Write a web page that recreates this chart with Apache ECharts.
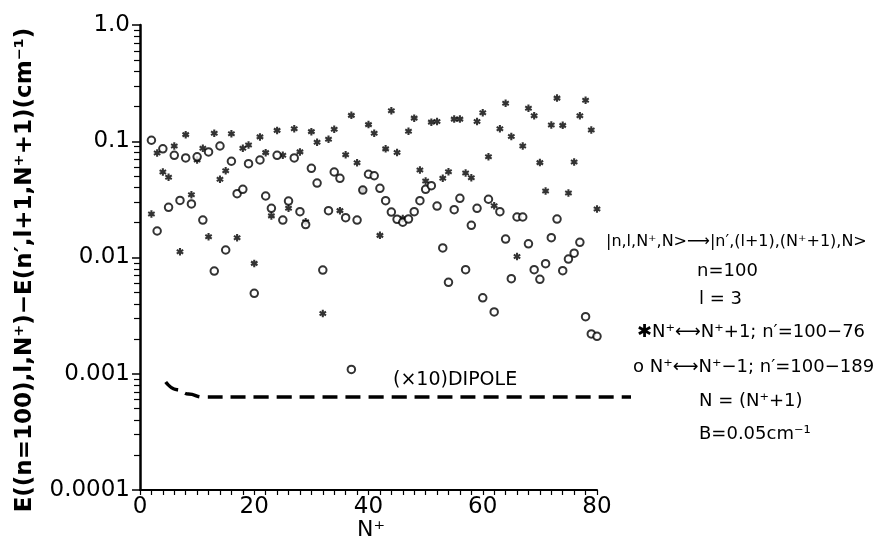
<!DOCTYPE html>
<html>
<head>
<meta charset="utf-8">
<script src="https://cdn.jsdelivr.net/npm/echarts@6/dist/echarts.min.js"></script>
<style>
  html, body { margin: 0; padding: 0; background: #fff; }
  #chart { width: 878px; height: 546px; }
</style>
</head>
<body>
<div id="chart"></div>
<script>
// N+ values, one asterisk and one circle per value
const starN = [2,3,4,5,6,7,8,9,10,11,12,13,14,15,16,17,18,19,20,21,22,23,24,25,26,27,28,29,30,31,
  32,33,34,35,36,37,38,39,40,41,42,43,44,45,46,47,48,49,50,51,52,53,54,55,56,57,58,59,60,61,
  62,63,64,65,66,67,68,69,70,71,72,73,74,75,76,77,78,79,80];
const starVal = [0.0237,0.0793,0.0544,0.049,0.091,0.0112,0.114,0.0347,0.069,0.087,
  0.0151,0.117,0.0471,0.0558,0.116,0.0148,0.087,0.0929,0.0089,0.109,
  0.0798,0.0228,0.124,0.0757,0.0265,0.128,0.081,0.0203,0.121,0.098,
  0.0033,0.104,0.127,0.0253,0.0766,0.167,0.0654,0.0381,0.139,0.117,
  0.0155,0.086,0.183,0.080,0.0217,0.122,0.158,0.0566,0.0455,0.146,
  0.148,0.048,0.0547,0.155,0.155,0.0533,0.0486,0.148,0.176,0.0735,
  0.0279,0.128,0.212,0.110,0.0102,0.091,0.192,0.166,0.0655,0.0373,
  0.138,0.235,0.137,0.0359,0.0664,0.166,0.225,0.125,0.0261];

const circleN = starN;
const circleVal = [0.102,0.0169,0.086,0.027,0.0757,0.031,0.0718,0.0289,0.0735,0.021,
  0.081,0.00765,0.091,0.0116,0.0673,0.0354,0.0386,0.0641,0.00492,0.069,
  0.0338,0.0265,0.0757,0.021,0.0306,0.0718,0.0248,0.0192,0.0585,0.0437,
  0.0078,0.0253,0.0544,0.048,0.022,0.00109,0.021,0.038,0.052,0.0505,
  0.0394,0.0308,0.0246,0.0213,0.0201,0.0214,0.0248,0.0308,0.0386,0.0415,
  0.0277,0.0121,0.00612,0.0258,0.0323,0.00785,0.0189,0.0265,0.0045,0.0317,
  0.0034,0.0248,0.0144,0.00657,0.0223,0.0223,0.0131,0.00785,0.00649,0.00885,
  0.0148,0.0214,0.0077,0.0097,0.0109,0.0135,0.0031,0.0022,0.0021];

// (x10) dipole curve, runs a little past the end of the axis
const dipoleN = [4.5, 6.5, 8.5, 11, 20, 40, 60, 86];
const dipoleVal = [0.00085, 0.00073, 0.00067, 0.00063, 0.00063, 0.00063, 0.00063, 0.00063];

const yTickLabels = ['0.0001', '0.001', '0.01', '0.1', '1.0'];
const xTickLabels = ['0', '20', '40', '60', '80'];
const yMinorTicks = [0.0002,0.0003,0.0004,0.0005,0.0006,0.0007,0.0008,0.0009,
  0.002,0.003,0.004,0.005,0.006,0.007,0.008,0.009,
  0.02,0.03,0.04,0.05,0.06,0.07,0.08,0.09,
  0.2,0.3,0.4,0.5,0.6,0.7,0.8,0.9];

const legendLines = [
  '|n,l,N⁺,N>⟶|n′,(l+1),(N⁺+1),N>',
  'n=100',
  'l = 3',
  '✱N⁺⟷N⁺+1; n′=100−76',
  'o N⁺⟷N⁺−1; n′=100−189',
  'N = (N⁺+1)',
  'B=0.05cm⁻¹'
];

const FONT = 'DejaVu Sans';
const ASTERISK = 'path://M-1.4,-5L1.4,-5L1.4,5L-1.4,5Z' +
  'M3.63,-3.71L5.03,-1.29L-3.63,3.71L-5.03,1.29Z' +
  'M5.03,1.29L3.63,3.71L-5.03,-1.29L-3.63,-3.71Z';

const chart = echarts.init(document.getElementById('chart'));

const legendText = (i, x, y, size) => ({
  type: 'text', x: x, y: y,
  style: { text: legendLines[i], font: (size || 18) + 'px "DejaVu Sans"', fill: '#000', verticalAlign: 'middle' }
});

const options = {
  animation: false,
  backgroundColor: '#fff',
  grid: [
    { left: 140, right: 281, top: 25, bottom: 56 },
    // same scale, wider, only for the dashed dipole line
    { left: 140, right: 247, top: 25, bottom: 56 }
  ],
  xAxis: [
    {
      type: 'value',
      min: 0,
      max: 80,
      interval: 20,
      axisLine: { show: true, lineStyle: { color: '#000', width: 2 } },
      axisTick: { show: true, length: 5, lineStyle: { color: '#000', width: 1.2 } },
      minorTick: { show: true, splitNumber: 10, length: 5, lineStyle: { color: '#000', width: 1.2 } },
      splitLine: { show: false },
      axisLabel: {
        fontFamily: FONT, fontSize: 23, color: '#000', margin: 6,
        formatter: (v) => xTickLabels[Math.round(v / 20)]
      }
    },
    { gridIndex: 1, type: 'value', min: 0, max: 86, show: false }
  ],
  yAxis: [
    {
      type: 'log',
      logBase: 10,
      min: 0.0001,
      max: 1,
      axisLine: { show: true, lineStyle: { color: '#000', width: 2.5 } },
      axisTick: { show: true, length: 8, lineStyle: { color: '#000', width: 1.5 } },
      splitLine: { show: false },
      axisLabel: {
        fontFamily: FONT, fontSize: 23, color: '#000', margin: 10,
        formatter: (v) => yTickLabels[Math.round(Math.log10(v)) + 4]
      }
    },
    {
      // minor log ticks 2..9 in each decade
      type: 'log',
      logBase: 10,
      min: 0.0001,
      max: 1,
      position: 'left',
      axisLine: { show: false },
      axisLabel: { show: false },
      splitLine: { show: false },
      axisTick: { show: true, length: 6, customValues: yMinorTicks, lineStyle: { color: '#000', width: 1.2 } }
    },
    { gridIndex: 1, type: 'log', logBase: 10, min: 0.0001, max: 1, show: false }
  ],
  graphic: [
    {
      type: 'text', x: 25, y: 270, rotation: Math.PI / 2,
      style: {
        text: 'E((n=100),l,N⁺)−E(n′,l+1,N⁺+1)(cm⁻¹)',
        font: 'bold 23px "DejaVu Sans"', fill: '#000',
        align: 'center', verticalAlign: 'middle'
      }
    },
    {
      type: 'text', x: 371, y: 530,
      style: { text: 'N⁺', font: '22px "DejaVu Sans"', fill: '#000', align: 'center', verticalAlign: 'middle' }
    },
    {
      type: 'text', x: 393, y: 380,
      style: { text: '(×10)DIPOLE', font: '19px "DejaVu Sans"', fill: '#000', align: 'left', verticalAlign: 'middle' }
    },
    legendText(0, 606, 242, 16),
    legendText(1, 697, 271),
    legendText(2, 699, 299),
    legendText(3, 637, 332),
    legendText(4, 633, 367),
    legendText(5, 699, 401),
    legendText(6, 699, 434)
  ],
  series: [
    {
      name: 'N+ <-> N+ + 1',
      type: 'scatter',
      symbol: ASTERISK,
      symbolSize: 7.5,
      itemStyle: { color: '#000' },
      data: starN.map((n, i) => [n, starVal[i]])
    },
    {
      name: 'N+ <-> N+ - 1',
      type: 'scatter',
      symbol: 'emptyCircle',
      symbolSize: 7.5,
      itemStyle: { color: '#000', borderColor: '#000', borderWidth: 1.7 },
      data: circleN.map((n, i) => [n, circleVal[i]])
    },
    {
      name: 'dipole',
      type: 'line',
      xAxisIndex: 1,
      yAxisIndex: 2,
      smooth: true,
      smoothMonotone: 'x',
      symbol: 'none',
      lineStyle: { color: '#000', width: 3.5, type: [15, 8] },
      data: dipoleN.map((n, i) => [n, dipoleVal[i]])
    }
  ]
};

chart.setOption(options);
</script>
</body>
</html>
